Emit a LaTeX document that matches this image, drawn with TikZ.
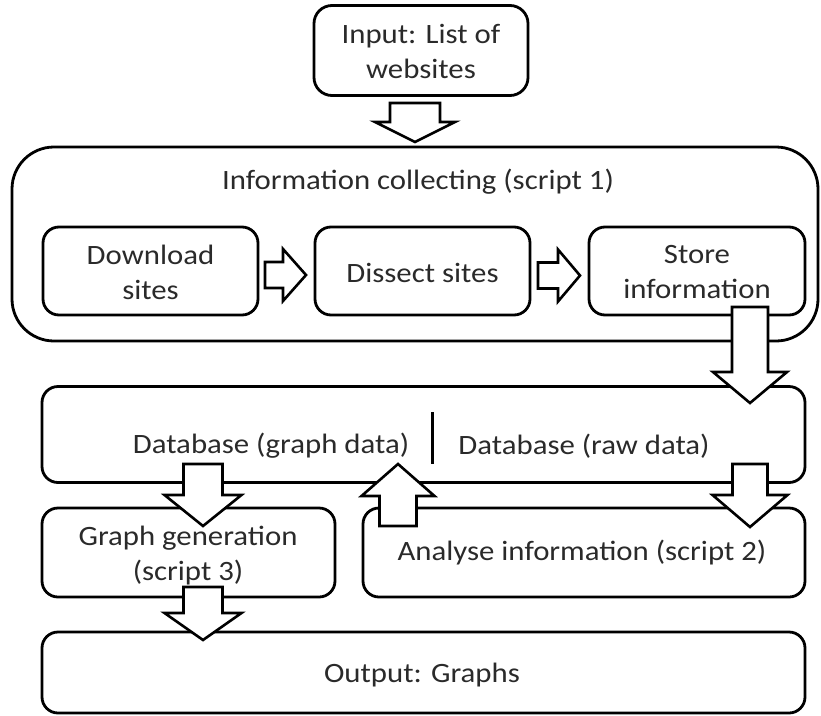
\documentclass[tikz,border=0pt]{standalone}
\usepackage{fontspec}
\setmainfont{Carlito}[FakeStretch=1.1]
\definecolor{txt}{HTML}{2A2A2A}
\newcommand\BArrowV[6]{% cx, ybase, yneck, ytip, shaft half, head half
  \draw[barrow] (#1-#5,#2) -- (#1+#5,#2) -- (#1+#5,#3) -- (#1+#6,#3) -- (#1,#4)
    -- (#1-#6,#3) -- (#1-#5,#3) -- cycle;}
\newcommand\BArrowH[6]{% cy, xbase, xneck, xtip, shaft half, head half
  \draw[barrow] (#2,#1-#5) -- (#2,#1+#5) -- (#3,#1+#5) -- (#3,#1+#6) -- (#4,#1)
    -- (#3,#1-#6) -- (#3,#1-#5) -- cycle;}
\begin{document}
\begin{tikzpicture}[x=1pt,y=-1pt,
  box/.style={draw=black, line width=2.8pt, rounded corners=#1, inner sep=0pt},
  box/.default=16pt,
  lbl/.style={text=txt, font=\fontsize{28}{35}\selectfont, align=center, inner sep=0pt},
  barrow/.style={draw=black, fill=white, line width=2.6pt, line join=miter}]
\useasboundingbox (0,0) rectangle (821,715);

% boxes
\node[box=18pt, minimum width=214pt, minimum height=90pt] (input) at (421,50.5) {};
\node[lbl] (inputt) at (421,51) {Input: List of\\websites};

\node[box=42pt, minimum width=806pt, minimum height=194pt] (collect) at (415,244) {};
\node[lbl] (collectt) at (418,182) {Information collecting (script 1)};

\node[box, minimum width=215pt, minimum height=88pt] (download) at (150.5,271) {};
\node[lbl] (downloadt) at (150.5,272.5) {Download\\sites};
\node[box, minimum width=215pt, minimum height=88pt] (dissect) at (422.5,271) {};
\node[lbl] (dissectt) at (422.5,273) {Dissect sites};
\node[box, minimum width=216pt, minimum height=88pt] (store) at (697,271) {};
\node[lbl] (storet) at (697,272.5) {Store\\information};

\node[box, minimum width=763pt, minimum height=96pt] (db) at (423.5,434.5) {};
\node[lbl] (dbg) at (271,446) {Database (graph data)};
\node[lbl] (dbr) at (584,446) {Database (raw data)};
\coordinate (divtop) at (432,412);
\coordinate (divbot) at (432,464);
\draw[line width=3pt] (divtop) -- (divbot);

\node[box, minimum width=293pt, minimum height=89pt] (graphgen) at (188.5,552.5) {};
\node[lbl] (graphgent) at (188,556) {Graph generation\\(script 3)};
\node[box, minimum width=442pt, minimum height=89pt] (analyse) at (584,552.5) {};
\node[lbl] (analyset) at (582,553) {Analyse information (script 2)};

\node[box, minimum width=763pt, minimum height=81pt] (output) at (423.5,672.5) {};
\node[lbl] (outputt) at (422,675) {Output: Graphs};

% block arrows
\BArrowV{415}{103}{122}{142}{25}{40}
\BArrowH{275}{265}{283}{306}{13}{26}
\BArrowH{275.5}{538}{558}{580}{13}{26}
\BArrowV{750}{307}{372}{403}{18}{37}
\BArrowV{203}{464}{495}{526}{19.5}{38.5}
\BArrowV{398}{526}{496}{464}{18.5}{36.5}
\BArrowV{750}{464}{495}{527}{17.5}{37.5}
\BArrowV{203}{587}{613}{640}{19.5}{38.5}
\end{tikzpicture}
\end{document}
